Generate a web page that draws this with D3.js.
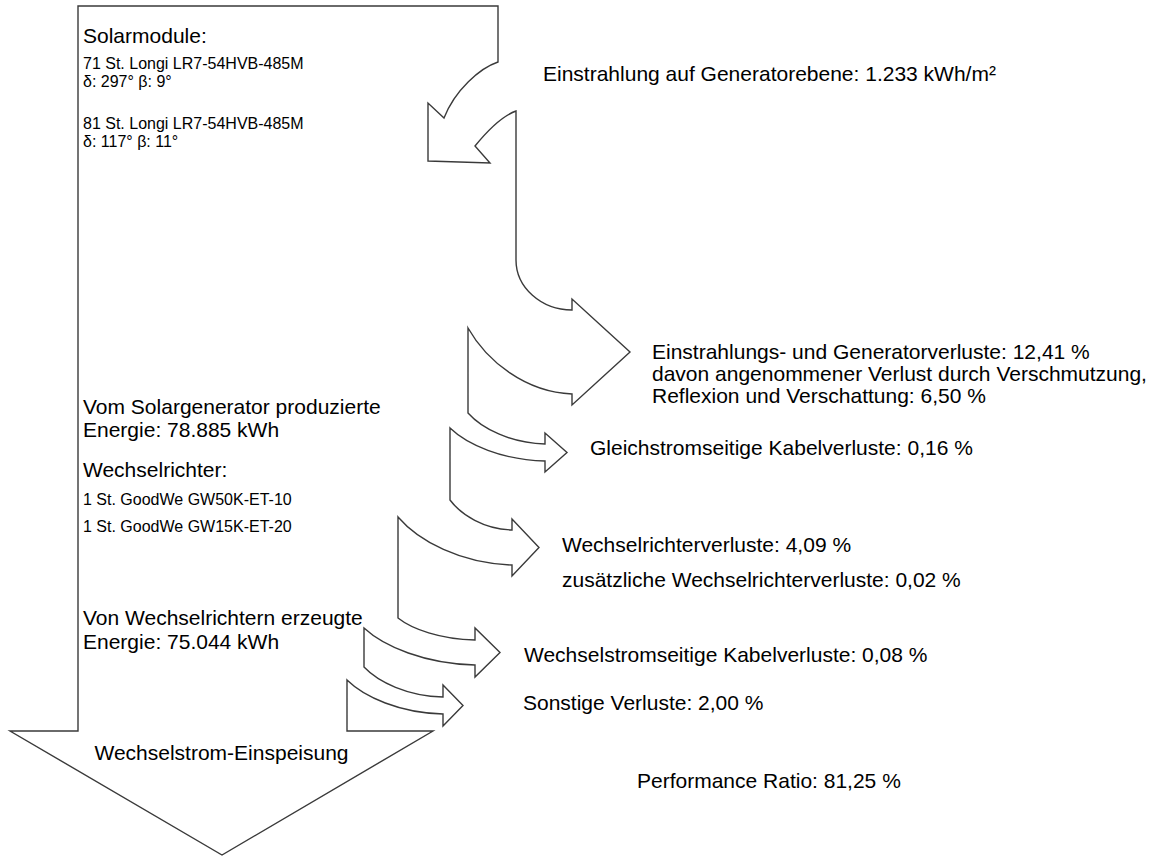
<!DOCTYPE html>
<html>
<head>
<meta charset="utf-8">
<script src="https://cdn.jsdelivr.net/npm/d3@7"></script>
<style>
  body { margin: 0; background: #fff; }
  text { font-family: "Liberation Sans", Arial, sans-serif; fill: #000; }
</style>
</head>
<body>
<div id="chart"></div>
<script>
/*
    DATA
*/
let irradiation = 1233;            // kWh/m²
let energyGenerator = 78885;       // kWh
let energyInverter = 75044;        // kWh
let performanceRatio = 81.25;      // %

let moduleLines = ["71 St. Longi LR7-54HVB-485M", "δ: 297° β: 9°", "81 St. Longi LR7-54HVB-485M", "δ: 117° β: 11°"];
let inverterLines = ["1 St. GoodWe GW50K-ET-10", "1 St. GoodWe GW15K-ET-20"];

let lossLabels = [
    "Einstrahlungs- und Generatorverluste",
    "Gleichstromseitige Kabelverluste",
    "Wechselrichterverluste",
    "zusätzliche Wechselrichterverluste",
    "Wechselstromseitige Kabelverluste",
    "Sonstige Verluste"
];
let lossValues = [12.41, 0.16, 4.09, 0.02, 0.08, 2.00];
let soilingValue = 6.50;

/*
    LAYOUT
*/
let SIZE = { width: 1162, height: 856 };
let LEFT = 78, TOP = 6, BOTTOM = 731;
let FEED = { left: 10, right: 433, tip: 855 };

// one entry per loss arrow: edge before, edge after, where the head sits
let ARROWS = [
    { xa: 516, ya: 260, xb: 468, yb: 328, xh: 572, yu: 310, yl: 394, barb: 11, tip: 630, round: true },
    { xa: 468, ya: 413, xb: 450, yb: 428, xh: 545, yu: 444, yl: 461, barb: 11, tip: 567 },
    { xa: 450, ya: 500, xb: 398, yb: 517, xh: 512, yu: 530, yl: 565, barb: 11, tip: 539 },
    { xa: 398, ya: 618, xb: 364, yb: 628, xh: 475, yu: 640, yl: 665, barb: 12, tip: 500 },
    { xa: 364, ya: 667, xb: 347, yb: 680, xh: 443, yu: 697, yl: 714, barb: 12, tip: 463 }
];
let LABEL_POS = [[652, 359], [590, 455], [562, 552], [562, 587], [524, 662], [523, 710]];

let FONT = 21, SMALL = 16;

let de = d3.formatLocale({ decimal: ",", thousands: ".", grouping: [3], currency: ["", " €"] });
let fmtInt = de.format(",.0f");
let fmtPct = de.format(".2f");

/*
    DRAW
*/
var svg = d3.select("#chart")
    .append("svg")
    .attr("width", SIZE.width)
    .attr("height", SIZE.height);

function curve(p, x0, y0, x1, y1, round) {
    var dx = x1 - x0, dy = y1 - y0;
    if (round) p.bezierCurveTo(x0, y0 + dy * 0.55, x1 - dx * 0.55, y1, x1, y1);
    else p.bezierCurveTo(x0 + dx * 0.18, y0 + dy * 0.5, x0 + dx * 0.55, y0 + dy * 0.97, x1, y1);
}

var p = d3.path();
p.moveTo(LEFT, BOTTOM);
p.lineTo(LEFT, TOP);
p.lineTo(498, TOP);
p.lineTo(498, 62);
// incoming irradiation arrow
p.bezierCurveTo(480, 68, 455, 90, 444, 118);
p.lineTo(428, 103);
p.lineTo(428, 161);
p.lineTo(490, 163);
p.lineTo(475, 146);
p.bezierCurveTo(488, 130, 502, 116, 516, 111);

ARROWS.forEach(a => {
    var tipY = (a.yu + a.yl) / 2;
    p.lineTo(a.xa, a.ya);
    curve(p, a.xa, a.ya, a.xh, a.yu, a.round);
    p.lineTo(a.xh, a.yu - a.barb);
    p.lineTo(a.tip, tipY);
    p.lineTo(a.xh, a.yl + a.barb);
    p.lineTo(a.xh, a.yl);
    // lower edge drawn backwards to the next edge
    var dx = a.xh - a.xb, dy = a.yl - a.yb;
    p.bezierCurveTo(a.xb + dx * 0.55, a.yb + dy * 0.97, a.xb + dx * 0.18, a.yb + dy * 0.5, a.xb, a.yb);
});

var last = ARROWS[ARROWS.length - 1];
p.lineTo(last.xb, BOTTOM);
p.lineTo(FEED.right, BOTTOM);
p.lineTo((FEED.left + FEED.right) / 2 + 0.5, FEED.tip);
p.lineTo(FEED.left, BOTTOM);
p.closePath();

svg.append("path")
    .attr("d", p.toString())
    .attr("fill", "#fff")
    .attr("stroke", "#3a3a3a")
    .attr("stroke-width", 1.4)
    .attr("stroke-linejoin", "miter");

function addText(str, x, y, size, anchor) {
    svg.append("text")
        .attr("x", x)
        .attr("y", y)
        .attr("font-size", size)
        .attr("text-anchor", anchor || "start")
        .text(str);
}

// left column
addText("Solarmodule:", 83, 43, FONT);
[69, 87, 129, 147].forEach((y, i) => addText(moduleLines[i], 83, y, SMALL));
addText("Vom Solargenerator produzierte", 83, 414, FONT);
addText(`Energie: ${fmtInt(energyGenerator)} kWh`, 83, 437, FONT);
addText("Wechselrichter:", 83, 477, FONT);
[505, 532].forEach((y, i) => addText(inverterLines[i], 83, y, SMALL));
addText("Von Wechselrichtern erzeugte", 83, 625, FONT);
addText(`Energie: ${fmtInt(energyInverter)} kWh`, 83, 649, FONT);
addText("Wechselstrom-Einspeisung", (FEED.left + FEED.right) / 2, 760, FONT, "middle");

// right side
addText(`Einstrahlung auf Generatorebene: ${fmtInt(irradiation)} kWh/m²`, 543, 81, FONT);
lossLabels.forEach((lab, i) => {
    addText(`${lab}: ${fmtPct(lossValues[i])} %`, LABEL_POS[i][0], LABEL_POS[i][1], FONT);
});
addText("davon angenommener Verlust durch Verschmutzung,", LABEL_POS[0][0], LABEL_POS[0][1] + 22, FONT);
addText(`Reflexion und Verschattung: ${fmtPct(soilingValue)} %`, LABEL_POS[0][0], LABEL_POS[0][1] + 44, FONT);
addText(`Performance Ratio: ${fmtPct(performanceRatio)} %`, 637, 788, FONT);
</script>
</body>
</html>
